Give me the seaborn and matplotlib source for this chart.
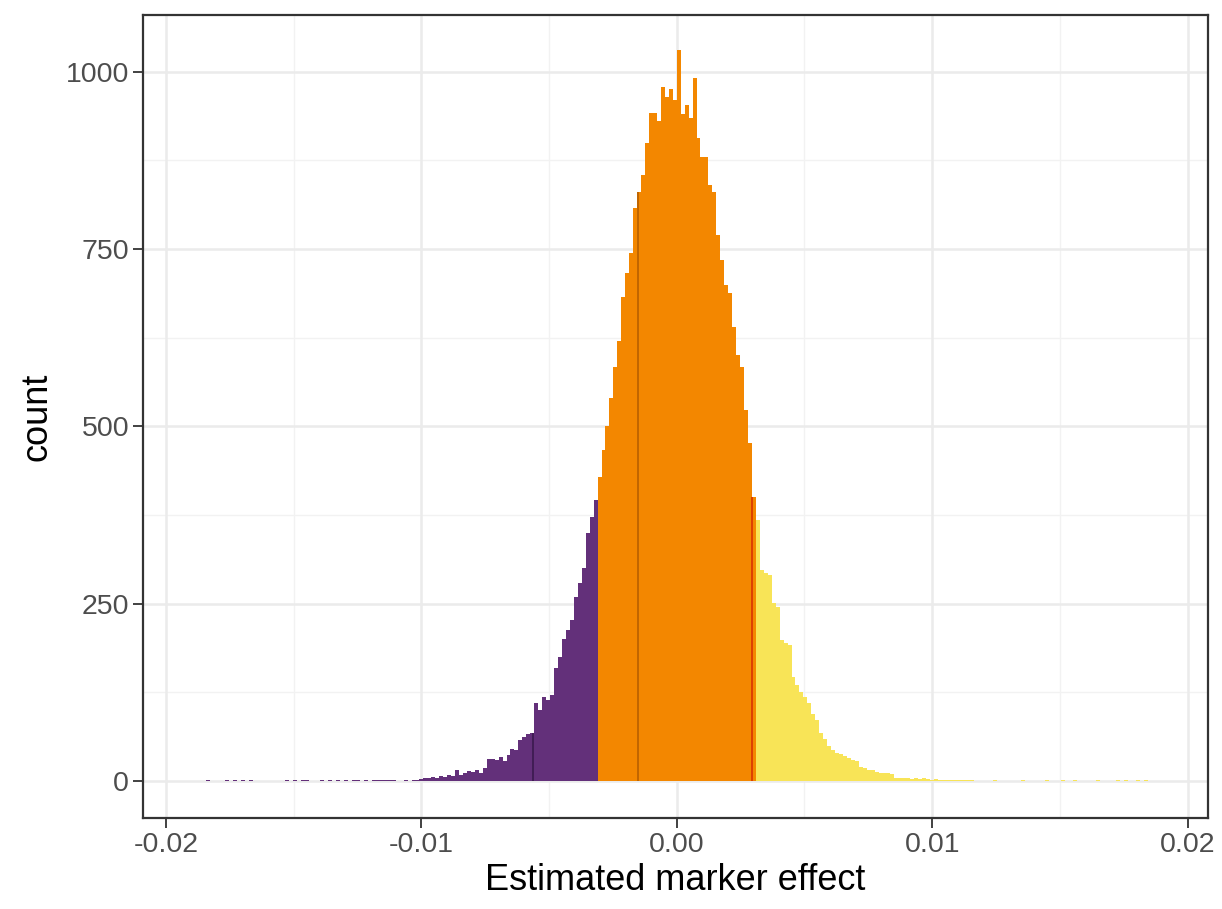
import numpy as np
import pandas as pd
import matplotlib
matplotlib.use("Agg")
import matplotlib.pyplot as plt
import seaborn as sns

# ---- data ----
bin_width = 0.000155
cut = 0.0031

purple_counts = [0, 1, 0, 0, 0, 0, 2, 0, 1, 0,
                 1, 0, 1, 0, 0, 0, 0, 0, 0, 0,
                 0, 1, 0, 1, 0, 1, 1, 0, 0, 0,
                 1, 0, 1, 0, 1, 0, 2, 0, 1, 1,
                 0, 1, 0, 1, 2, 1, 2, 1, 1, 0,
                 0, 1, 0, 1, 2, 3, 4, 4, 6, 5,
                 7, 6, 8, 7, 15, 9, 11, 14, 13, 15,
                 12, 19, 31, 31, 30, 34, 28, 37, 45, 44,
                 58, 62, 66, 68, 110, 100, 118, 115, 121, 160,
                 175, 200, 213, 227, 260, 279, 300, 350, 373, 396]

orange_counts = [429, 467, 500, 540, 584, 620, 683, 716, 745, 808,
                 830, 855, 900, 942, 942, 930, 979, 965, 975, 960,
                 1031, 940, 953, 935, 991, 907, 880, 880, 840, 831,
                 770, 735, 700, 688, 640, 600, 584, 523, 477, 400]

yellow_counts = [368, 298, 293, 290, 251, 245, 199, 195, 192, 147,
                 135, 125, 118, 110, 95, 86, 68, 60, 50, 44,
                 40, 38, 35, 33, 30, 28, 20, 18, 16, 15,
                 13, 12, 11, 11, 10, 5, 5, 4, 5, 3,
                 4, 3, 4, 3, 2, 3, 2, 2, 1, 2,
                 1, 2, 1, 1, 1, 0, 0, 0, 0, 0,
                 1, 0, 0, 0, 0, 0, 0, 1, 0, 0,
                 0, 0, 0, 1, 0, 0, 0, 1, 0, 0,
                 1, 0, 0, 0, 0, 0, 1, 0, 0, 0,
                 0, 1, 0, 1, 0, 0, 1, 0, 1, 0]

group_names = ["low", "mid", "high"]
group_colors = ["#63307A", "#F38700", "#F8E457"]

line_x = [-0.00564, -0.00150, 0.00295]
line_colors = ["#3B1A4E", "#B86000", "#D93300"]

x_ticks = [-0.02, -0.01, 0.00, 0.01, 0.02]
x_tick_labels = ["-0.02", "-0.01", "0.00", "0.01", "0.02"]
y_ticks = [0, 250, 500, 750, 1000]

# ---- build table ----
all_counts = purple_counts + orange_counts + yellow_counts
n_bins = len(all_counts)
start = -cut - len(purple_counts) * bin_width
edges = start + bin_width * np.arange(n_bins + 1)
centers = (edges[:-1] + edges[1:]) / 2
groups = ([group_names[0]] * len(purple_counts) + [group_names[1]] * len(orange_counts)
          + [group_names[2]] * len(yellow_counts))
df = pd.DataFrame({"effect": centers, "count": all_counts, "group": groups})

# ---- plot ----
sns.set_theme(style="white")
plt.rcParams["font.family"] = ["Liberation Sans", "DejaVu Sans"]

fig = plt.figure(figsize=(12.22, 9.09), dpi=100)
ax = fig.add_axes([0.117, 0.1001, 0.8715, 0.8834])

# grid (theme_bw style)
for v in [-0.015, -0.005, 0.005, 0.015]:
    ax.axvline(v, color="#F2F2F2", lw=1.0, zorder=0)
for v in [125, 375, 625, 875]:
    ax.axhline(v, color="#F2F2F2", lw=1.0, zorder=0)
for v in x_ticks:
    ax.axvline(v, color="#EBEBEB", lw=1.8, zorder=0)
for v in y_ticks:
    ax.axhline(v, color="#EBEBEB", lw=1.8, zorder=0)

sns.histplot(data=df, x="effect", weights="count", hue="group", bins=list(edges),
             hue_order=group_names, palette=dict(zip(group_names, group_colors)),
             multiple="layer", element="step", fill=True, alpha=1.0,
             linewidth=0, legend=False, ax=ax, zorder=2)

# thin dark lines inside the bars
for xv, c in zip(line_x, line_colors):
    idx = int(np.searchsorted(edges, xv) - 1)
    ax.vlines(xv, 0, all_counts[idx], color=c, lw=1.2, zorder=3)

ax.set_xlim(-0.0209, 0.0208)
ax.set_ylim(-52, 1080)
ax.set_xticks(x_ticks)
ax.set_xticklabels(x_tick_labels)
ax.set_yticks(y_ticks)
ax.tick_params(axis="both", labelsize=20.5, labelcolor="#4D4D4D", color="#333333",
               length=7, width=1.3, direction="out", bottom=True, left=True, pad=3)
for s in ax.spines.values():
    s.set_color("#333333")
    s.set_linewidth(1.6)
ax.set_xlabel("Estimated marker effect", fontsize=26, color="black", labelpad=4)
ax.set_ylabel("count", fontsize=26, color="black", labelpad=8)

fig.savefig("out.png", dpi=100)
